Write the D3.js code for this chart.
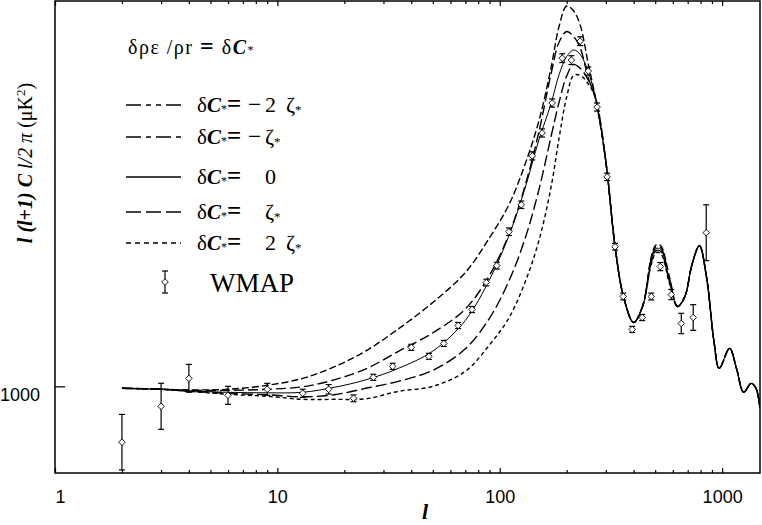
<!DOCTYPE html>
<html>
<head>
<meta charset="utf-8">
<script src="https://cdn.jsdelivr.net/npm/d3@7"></script>
<style>
    body { margin: 0; background: #fff; }
    svg { display: block; }
    text { fill: #000; }
</style>
</head>
<body>
<div id="chart"></div>
<script>

const ells = [2, 3, 4, 6, 9, 13, 18, 25, 35, 50, 70, 90, 110, 130, 150, 170, 185, 200, 215, 230, 250,
    270, 300, 330, 360, 400, 440, 480, 505, 530, 580, 630, 680, 730, 790, 850, 920, 970, 1080, 1160, 1250, 1350, 1420, 1480];

// l(l+1)C_l/2pi in uK^2, one list per model
const minus2Zeta = [971, 956, 948, 956, 1015, 1118, 1287, 1523, 1848, 2238, 2680, 3196, 3683, 4280, 4921, 5702, 6321, 6616, 6542, 6336, 5761,
    5245, 4317, 3064, 2327, 1943, 2194, 2910, 3090, 3075, 2610, 2179, 2327, 2784, 3078, 2621, 1649, 1265, 1560, 1265, 912, 1044, 971, 676];
const minusZeta = [971, 956, 941, 941, 956, 993, 1096, 1258, 1516, 1789, 2142, 2642, 3245, 3963, 4759, 5614, 6085, 6240, 6165, 5997, 5555,
    5245, 4317, 3064, 2327, 1943, 2194, 2885, 3060, 3045, 2585, 2179, 2327, 2784, 3078, 2621, 1649, 1265, 1560, 1265, 912, 1044, 971, 676];
const zeroZeta = [971, 956, 934, 912, 904, 912, 985, 1096, 1265, 1520, 1973, 2577, 3226, 3927, 4641, 5171, 5608, 5870, 5967, 5901, 5643,
    5245, 4317, 3064, 2327, 1943, 2194, 2857, 3034, 3019, 2562, 2179, 2327, 2784, 3078, 2621, 1649, 1265, 1560, 1265, 912, 1044, 971, 676];
const plusZeta = [971, 956, 926, 897, 875, 845, 875, 971, 1074, 1236, 1554, 2008, 2557, 3182, 3904, 4685, 5201, 5584, 5754, 5695, 5525,
    5245, 4317, 3064, 2327, 1943, 2194, 2830, 3005, 2990, 2540, 2179, 2327, 2784, 3078, 2621, 1649, 1265, 1560, 1265, 912, 1044, 971, 676];
const plus2Zeta = [971, 956, 926, 882, 853, 808, 808, 816, 926, 1000, 1221, 1613, 2011, 2539, 3152, 3938, 4675, 5275, 5592, 5592, 5466,
    5245, 4317, 3064, 2327, 1943, 2194, 2800, 2975, 2960, 2515, 2179, 2327, 2784, 3078, 2621, 1649, 1265, 1560, 1265, 912, 1044, 971, 676];

// WMAP binned points
const wmapEll = [2, 3, 4, 6, 9, 13, 17, 22, 27, 33, 40, 48, 56, 65, 75, 87, 97, 110, 125, 140, 155, 172, 191, 210, 230, 250,
    274, 304, 330, 359, 394, 437, 480, 527, 591, 655, 741, 848];
const wmapPower = [175, 705, 1118, 867, 956, 897, 956, 823, 1133, 1295, 1575, 1442, 1633, 1898, 2134, 2532, 2782, 3283, 3681, 4403, 4741, 5183, 5846, 5817, 6097, 5655,
    5124, 4093, 3062, 2326, 1840, 2016, 2326, 2768, 2355, 1928, 2016, 3268];
const wmapError = [410, 340, 206, 133, 88, 60, 70, 50, 45, 45, 45, 45, 45, 45, 45, 50, 50, 55, 55, 60, 60, 60, 65, 65, 65, 60,
    60, 55, 50, 50, 45, 45, 50, 60, 75, 150, 190, 412];

const xTickLabels = ["1", "10", "100", "1000"];
const yTickValues = [1000];

// legend rows: "δC*=" followed by these
const legendValues = ["\u22122 \u03b6", "\u2212\u03b6", "0", "\u03b6", "2 \u03b6"];


class SpectrumChart {

    constructor(parentElement) {
        this.parentElement = parentElement;

        this.series = [minus2Zeta, minusZeta, zeroZeta, plusZeta, plus2Zeta].map(function (vals) {
            return vals.map(function (v, i) { return {l: ells[i], v: v}; });
        });
        this.points = wmapEll.map(function (l, i) {
            return {l: l, v: wmapPower[i], e: wmapError[i]};
        });

        // plot dashes / legend dashes for each model
        this.styles = [
            {dash: "7,3", legendDash: "15,5,5,5,5,5", width: 1.4},
            {dash: "10,4", legendDash: "15,5,5,5", width: 1.4},
            {dash: null, legendDash: null, width: 1.0},
            {dash: "11,4", legendDash: "15,5", width: 1.4},
            {dash: "4,3", legendDash: "5,4", width: 1.4}
        ];

        this.initVis();
    }

    initVis() {
        let vis = this;

        vis.margin = {top: 1, right: 2, bottom: 52, left: 55};
        vis.width = 762 - vis.margin.left - vis.margin.right;
        vis.height = 525 - vis.margin.top - vis.margin.bottom;

        vis.root = d3.select("#" + vis.parentElement).append("svg")
            .attr("width", 762)
            .attr("height", 525);

        vis.svg = vis.root.append("g")
            .attr("transform", "translate(" + vis.margin.left + "," + vis.margin.top + ")");

        vis.x = d3.scaleLog().domain([1, 1480]).range([0, vis.width]);
        vis.y = d3.scaleLinear().domain([-280, 6690]).range([vis.height, 0]);

        vis.svg.append("clipPath").attr("id", "plot-clip")
            .append("rect")
            .attr("width", vis.width)
            .attr("height", vis.height);

        vis.updateVis();
    }

    updateVis() {
        let vis = this;

        let majors = [1, 10, 100, 1000];
        let minors = [];
        [1, 10, 100].forEach(function (dec) {
            for (let k = 2; k <= 9; k++) {
                if (k * dec <= 1480) minors.push(k * dec);
            }
        });

        // bottom axis: major with labels, minors unlabelled, all ticks inward
        let bottomMajor = vis.svg.append("g")
            .attr("transform", "translate(0," + vis.height + ")")
            .call(d3.axisBottom(vis.x).tickValues(majors).tickSize(-5).tickPadding(17)
                .tickFormat(function (d, i) { return xTickLabels[i]; }));
        vis.svg.append("g")
            .attr("transform", "translate(0," + vis.height + ")")
            .call(d3.axisBottom(vis.x).tickValues(minors).tickSize(-3).tickFormat(""));

        // top ticks
        vis.svg.append("g")
            .call(d3.axisTop(vis.x).tickValues(majors).tickSize(-5).tickFormat(""));
        vis.svg.append("g")
            .call(d3.axisTop(vis.x).tickValues(minors).tickSize(-3).tickFormat(""));

        let left = vis.svg.append("g")
            .call(d3.axisLeft(vis.y).tickValues(yTickValues).tickSize(-10).tickPadding(15)
                .tickFormat(d3.format("d")));
        left.selectAll("text").attr("dy", "0.78em");

        vis.svg.selectAll(".domain").remove();
        vis.svg.selectAll(".tick line").attr("stroke", "#000").attr("stroke-width", 1.2);
        vis.svg.selectAll(".tick text")
            .attr("fill", "#000")
            .style("font-family", "'Liberation Sans', Arial, sans-serif")
            .style("font-size", "18px");
        bottomMajor.selectAll(".tick text").filter(function (d) { return d === 1; }).attr("dx", 5);

        // frame
        vis.svg.append("rect")
            .attr("width", vis.width)
            .attr("height", vis.height)
            .attr("fill", "none")
            .attr("stroke", "#000")
            .attr("stroke-width", 1.5);

        // model curves
        let line = d3.line()
            .x(function (d) { return vis.x(d.l); })
            .y(function (d) { return vis.y(d.v); })
            .curve(d3.curveCatmullRom.alpha(0.5));

        vis.svg.append("g").attr("clip-path", "url(#plot-clip)")
            .selectAll("path")
            .data(vis.series)
            .enter().append("path")
            .attr("d", line)
            .attr("fill", "none")
            .attr("stroke", "#000")
            .attr("stroke-width", function (d, i) { return vis.styles[i].width; })
            .attr("stroke-dasharray", function (d, i) { return vis.styles[i].dash; });

        // WMAP points
        let pts = vis.svg.append("g").selectAll("g")
            .data(vis.points)
            .enter().append("g");

        pts.append("line")
            .attr("x1", function (d) { return vis.x(d.l); })
            .attr("x2", function (d) { return vis.x(d.l); })
            .attr("y1", function (d) { return vis.y(d.v - d.e); })
            .attr("y2", function (d) { return vis.y(d.v + d.e); });
        pts.append("line")
            .attr("x1", function (d) { return vis.x(d.l) - 3; })
            .attr("x2", function (d) { return vis.x(d.l) + 3; })
            .attr("y1", function (d) { return vis.y(d.v - d.e); })
            .attr("y2", function (d) { return vis.y(d.v - d.e); });
        pts.append("line")
            .attr("x1", function (d) { return vis.x(d.l) - 3; })
            .attr("x2", function (d) { return vis.x(d.l) + 3; })
            .attr("y1", function (d) { return vis.y(d.v + d.e); })
            .attr("y2", function (d) { return vis.y(d.v + d.e); });
        pts.selectAll("line").attr("stroke", "#000").attr("stroke-width", 1.2);
        pts.append("path")
            .attr("d", function (d) { return vis.diamond(vis.x(d.l), vis.y(d.v)); })
            .attr("fill", "#fff")
            .attr("stroke", "#000")
            .attr("stroke-width", 0.9);

        vis.drawLabels();
        vis.drawLegend();
    }

    diamond(cx, cy) {
        let r = 3.3;
        return "M" + cx + "," + (cy - r) + "L" + (cx + r) + "," + cy + "L" + cx + "," + (cy + r) + "L" + (cx - r) + "," + cy + "Z";
    }

    drawLabels() {
        let vis = this;
        let serif = "'Liberation Serif', 'Times New Roman', serif";

        vis.root.append("text")
            .attr("x", 425).attr("y", 519)
            .attr("text-anchor", "middle")
            .style("font-family", serif)
            .style("font-size", "22px")
            .style("font-weight", "bold")
            .style("font-style", "italic")
            .text("l");

        let yl = vis.root.append("text")
            .attr("transform", "translate(32,163) rotate(-90)")
            .attr("text-anchor", "middle")
            .style("font-family", serif)
            .style("font-size", "20px");
        yl.append("tspan").style("font-weight", "bold").style("font-style", "italic").text("l (l+1) C");
        yl.append("tspan").style("font-style", "italic").text(" l/2 ");
        yl.append("tspan").style("font-style", "italic").text("\u03c0");
        yl.append("tspan").text(" (\u03bcK");
        yl.append("tspan").attr("dy", -7).style("font-size", "13px").text("2");
        yl.append("tspan").attr("dy", 7).text(")");
    }

    drawLegend() {
        let vis = this;
        let serif = "'Liberation Serif', 'Times New Roman', serif";

        // title
        let t = vis.root.append("text")
            .attr("x", 128).attr("y", 54)
            .style("font-family", serif)
            .style("font-size", "20px")
            .style("letter-spacing", "1.5px")
            .style("white-space", "pre");
        t.append("tspan").text("\u03b4\u03c1\u03b5 /\u03c1r ");
        t.append("tspan").style("font-weight", "bold").style("font-size", "24px").text("=");
        t.append("tspan").text(" \u03b4");
        t.append("tspan").style("font-weight", "bold").style("font-style", "italic").text("C");
        t.append("tspan").style("font-size", "12px").text("*");

        let rowY = [105, 137, 177, 212, 243];

        let rows = vis.root.append("g").selectAll("g")
            .data(legendValues)
            .enter().append("g")
            .attr("transform", function (d, i) { return "translate(0," + rowY[i] + ")"; });

        rows.append("line")
            .attr("x1", 126).attr("x2", 181)
            .attr("stroke", "#000")
            .attr("stroke-width", 1.3)
            .attr("stroke-dasharray", function (d, i) { return vis.styles[i].legendDash; });

        let lead = rows.append("text")
            .attr("x", 197).attr("y", 7)
            .style("font-family", serif)
            .style("font-size", "21px");
        lead.append("tspan").text("\u03b4");
        lead.append("tspan").style("font-weight", "bold").style("font-style", "italic").text("C");
        lead.append("tspan").attr("dy", 1).style("font-size", "12px").text("*");
        lead.append("tspan").attr("dy", -1)
            .style("font-weight", "bold").style("font-size", "25px").text("=");

        // minus sign sits left of the value
        rows.filter(function (d) { return d[0] === "\u2212"; })
            .append("text")
            .attr("x", 248).attr("y", 7)
            .style("font-family", serif)
            .style("font-size", "23px")
            .text("\u2212");

        let val = rows.append("text")
            .attr("x", 265).attr("y", 7)
            .style("font-family", serif)
            .style("font-size", "22px");
        val.each(function (d) {
            let parts = d.replace("\u2212", "").split(" ");
            let el = d3.select(this);
            parts.forEach(function (p, j) {
                el.append("tspan").attr("dx", j > 0 ? 10 : 0).text(p);
            });
            if (d.indexOf("\u03b6") >= 0) {
                el.append("tspan").attr("dy", 2).style("font-size", "13px").text("*");
            }
        });

        // WMAP entry
        let wy = 282, wx = 165;
        let w = vis.root.append("g");
        w.append("line").attr("x1", wx).attr("x2", wx).attr("y1", wy - 11).attr("y2", wy + 11);
        w.append("line").attr("x1", wx - 3).attr("x2", wx + 3).attr("y1", wy - 11).attr("y2", wy - 11);
        w.append("line").attr("x1", wx - 3).attr("x2", wx + 3).attr("y1", wy + 11).attr("y2", wy + 11);
        w.selectAll("line").attr("stroke", "#000").attr("stroke-width", 1.2);
        w.append("path").attr("d", vis.diamond(wx, wy))
            .attr("fill", "#fff").attr("stroke", "#000").attr("stroke-width", 0.9);
        w.append("text")
            .attr("x", 210).attr("y", 292)
            .style("font-family", serif)
            .style("font-size", "27px")
            .text("WMAP");
    }
}

new SpectrumChart("chart");

</script>
</body>
</html>
